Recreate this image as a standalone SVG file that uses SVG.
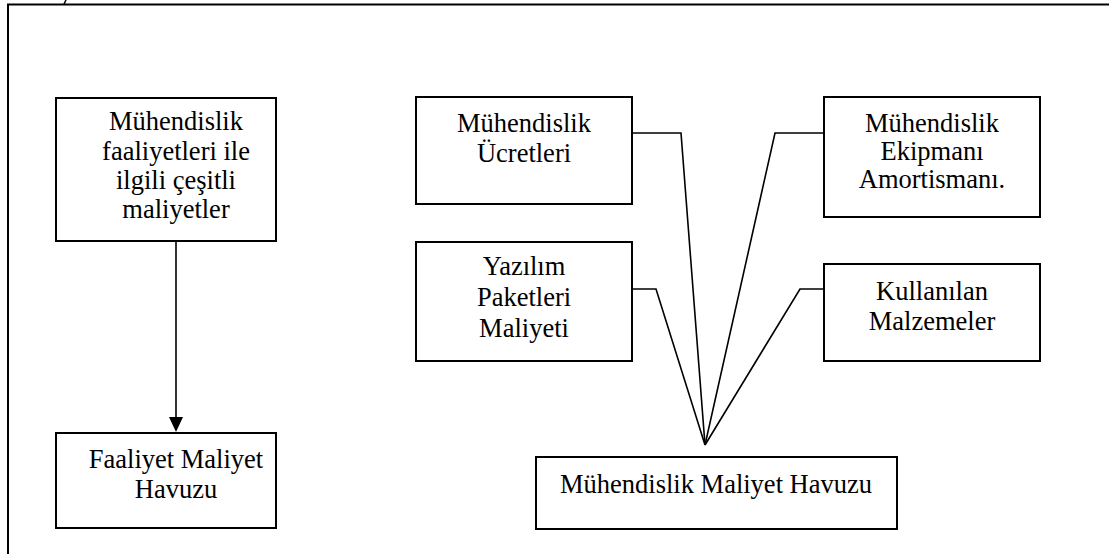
<svg xmlns="http://www.w3.org/2000/svg" width="1109" height="554" viewBox="0 0 1109 554">
  <style>
    .box { fill: #ffffff; stroke: #000000; stroke-width: 2; }
    .lbl { font-family: "Liberation Serif", "Times New Roman", serif; font-size: 26.5px; fill: #000000; text-anchor: middle; }
    .wire { fill: none; stroke: #000000; stroke-width: 1.6; stroke-linejoin: miter; }
    .frame { fill: none; stroke: #000000; stroke-width: 2; }
  </style>

  <rect width="1109" height="554" fill="#ffffff"/>

  <!-- outer frame -->
  <g id="frame">
    <polyline class="frame" points="8,554 8,4.5 1109,4.5"/>
    <line x1="66" y1="0" x2="64" y2="4" stroke="#000000" stroke-width="1.5"/>
  </g>

  <!-- connectors -->
  <g id="connectors">
    <line class="wire" x1="176" y1="242" x2="176" y2="417"/>
    <path d="M169,417 L183,417 L176,432 Z" fill="#000000"/>
    <polyline class="wire" points="632,133 681,133 705,445"/>
    <polyline class="wire" points="824,133 775,133 705,445"/>
    <polyline class="wire" points="632,289 656,289 705,445"/>
    <polyline class="wire" points="824,289 800,289 705,445"/>
  </g>

  <g id="node-activity-costs">
    <rect class="box" x="56" y="98" width="220" height="143"/>
    <text class="lbl" x="176" y="130">Mühendislik</text>
    <text class="lbl" x="176" y="160">faaliyetleri ile</text>
    <text class="lbl" x="176" y="189">ilgili çeşitli</text>
    <text class="lbl" x="176" y="218">maliyetler</text>
  </g>

  <g id="node-activity-pool">
    <rect class="box" x="56" y="433" width="220" height="95"/>
    <text class="lbl" x="176" y="468">Faaliyet Maliyet</text>
    <text class="lbl" x="176" y="498">Havuzu</text>
  </g>

  <g id="node-fees">
    <rect class="box" x="416" y="97" width="216" height="107"/>
    <text class="lbl" x="524" y="132">Mühendislik</text>
    <text class="lbl" x="524" y="162">Ücretleri</text>
  </g>

  <g id="node-equipment">
    <rect class="box" x="824" y="97" width="216" height="120"/>
    <text class="lbl" x="932" y="132">Mühendislik</text>
    <text class="lbl" x="932" y="160">Ekipmanı</text>
    <text class="lbl" x="932" y="188">Amortismanı.</text>
  </g>

  <g id="node-software">
    <rect class="box" x="416" y="242" width="216" height="119"/>
    <text class="lbl" x="524" y="275">Yazılım</text>
    <text class="lbl" x="524" y="306">Paketleri</text>
    <text class="lbl" x="524" y="337">Maliyeti</text>
  </g>

  <g id="node-materials">
    <rect class="box" x="824" y="264" width="216" height="97"/>
    <text class="lbl" x="932" y="300">Kullanılan</text>
    <text class="lbl" x="932" y="330">Malzemeler</text>
  </g>

  <g id="node-engineering-pool">
    <rect class="box" x="536" y="457" width="361" height="72"/>
    <text class="lbl" x="716" y="493">Mühendislik Maliyet Havuzu</text>
  </g>
</svg>
